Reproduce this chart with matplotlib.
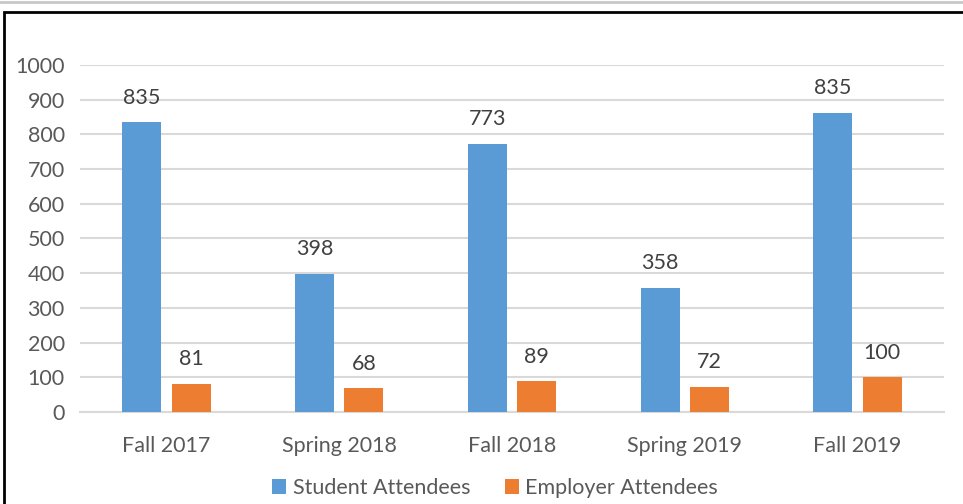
import matplotlib.pyplot as plt
import numpy as np
from matplotlib.patches import Rectangle
from matplotlib.lines import Line2D

plt.rcParams['font.family'] = ['Lato', 'DejaVu Sans']

terms = ['Fall 2017', 'Spring 2018', 'Fall 2018', 'Spring 2019', 'Fall 2019']
students = [835, 398, 773, 358, 863]
student_labels = ['835', '398', '773', '358', '835']
employers = [81, 68, 89, 72, 100]
employer_labels = ['81', '68', '89', '72', '100']

blue = '#5B9BD5'
orange = '#ED7D31'
txt = '#595959'
fs = 15.5

fig = plt.figure(figsize=(9.63, 5.04), dpi=100)
ax = fig.add_axes([80/963, 1-412/504, 864/963, 347/504])

x = np.arange(len(terms))
w = 0.226
off = 0.143
b1 = ax.bar(x - off, students, w, color=blue, label='Student Attendees', zorder=3)
b2 = ax.bar(x + off, employers, w, color=orange, label='Employer Attendees', zorder=3)

for r, s in zip(b1, student_labels):
    ax.text(r.get_x() + r.get_width()/2, r.get_height() + 42, s,
            ha='center', va='bottom', fontsize=fs, color='#404040')
for r, s in zip(b2, employer_labels):
    ax.text(r.get_x() + r.get_width()/2, r.get_height() + 42, s,
            ha='center', va='bottom', fontsize=fs, color='#404040')

ax.set_xlim(-0.5, 4.5)
ax.set_ylim(0, 1000)
ax.set_yticks(range(0, 1001, 100))
ax.set_xticks(x)
ax.set_xticklabels(terms)
ax.tick_params(axis='both', length=0, labelsize=fs, labelcolor=txt)
ax.tick_params(axis='x', pad=17)
ax.tick_params(axis='y', pad=11)
ax.grid(axis='y', color='#D9D9D9', linewidth=1.5, zorder=0)
for sp in ['top', 'right', 'left']:
    ax.spines[sp].set_visible(False)
ax.spines['bottom'].set_color('#D9D9D9')
ax.spines['bottom'].set_linewidth(1.5)

fig.legend(handles=[b1, b2], loc='center', bbox_to_anchor=(495/963, 1-488/504),
           ncol=2, frameon=False, fontsize=fs, labelcolor=txt,
           handlelength=0.65, handleheight=0.65, handletextpad=0.3, columnspacing=1.6)

# outer frame
fig.add_artist(Rectangle((3.5/963, -0.1), 1.2, 1 - 11.5/504 + 0.1,
                         transform=fig.transFigure, fill=False,
                         edgecolor='black', linewidth=2))
fig.add_artist(Line2D([0, 1], [1 - 1.5/504, 1 - 1.5/504],
                      transform=fig.transFigure, color='#C8C8C8', linewidth=2))

fig.savefig('out.png', dpi=100)
